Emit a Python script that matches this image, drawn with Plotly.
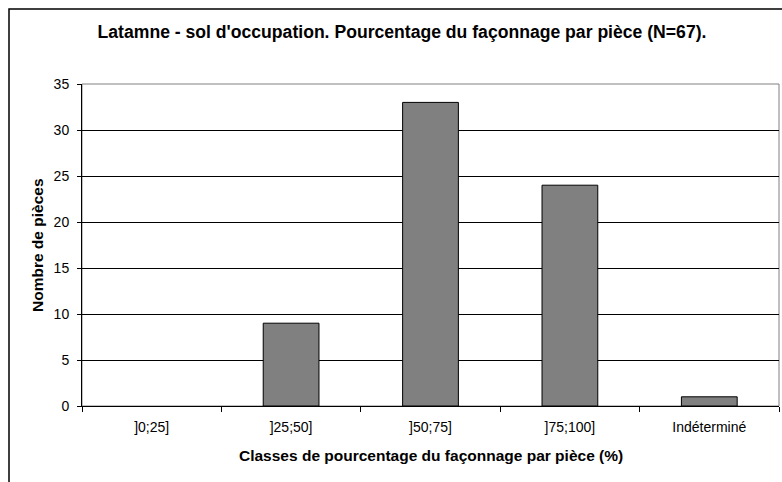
import plotly.graph_objects as go

# Category labels and piece counts
classes = ["]0;25]", "]25;50]", "]50;75]", "]75;100]", "Indéterminé"]
counts = [0, 9, 33, 24, 1]
y_ticks = [0, 5, 10, 15, 20, 25, 30, 35]

FONT = "Arial, 'Liberation Sans', sans-serif"

fig = go.Figure()
fig.add_trace(go.Bar(
    x=classes,
    y=counts,
    marker=dict(
        color="#808080",
        # no outline on empty classes, so nothing is drawn for a zero count
        line=dict(color="black", width=[1 if v > 0 else 0 for v in counts]),
    ),
    width=0.4,
    hoverinfo="x+y",
))

L, R, T, B = 82, 3, 84, 76
W, H = 782, 482
pw, ph = W - L - R, H - T - B

fig.update_layout(
    width=W, height=H,
    margin=dict(l=L, r=R, t=T, b=B),
    paper_bgcolor="white",
    plot_bgcolor="white",
    showlegend=False,
    font=dict(family=FONT, color="black", size=14),
    xaxis=dict(
        type="category",
        showgrid=False,
        showline=True, linecolor="black", linewidth=1,
        ticks="outside", tickson="boundaries", ticklen=5, tickcolor="black",
        tickfont=dict(size=14),
        ticklabelstandoff=8,
        range=[-0.5, 4.5],
        fixedrange=True,
    ),
    yaxis=dict(
        range=[0, 35],
        tickvals=y_ticks,
        showgrid=True, gridcolor="black", gridwidth=1,
        showline=True, linecolor="black", linewidth=1,
        ticks="outside", ticklen=4, tickcolor="black",
        tickfont=dict(size=14),
        ticklabelstandoff=5,
        zeroline=False,
        fixedrange=True,
    ),
    title=dict(
        text="<b>Latamne - sol d'occupation. Pourcentage du façonnage par pièce (N=67).</b>",
        font=dict(size=17.6, family=FONT, color="black"),
        x=402 / W, xanchor="center", xref="container",
        y=1 - 32 / H, yanchor="middle", yref="container",
    ),
    annotations=[
        dict(
            text="<b>Nombre de pièces</b>",
            textangle=-90,
            x=(37 - L) / pw, xref="paper", xanchor="center",
            y=0.5, yref="paper", yanchor="middle",
            showarrow=False, font=dict(size=15.5, family=FONT, color="black"),
        ),
        dict(
            text="<b>Classes de pourcentage du façonnage par pièce (%)</b>",
            x=0.5, xref="paper", xanchor="center",
            y=-(455 - (H - B)) / ph, yref="paper", yanchor="middle",
            showarrow=False, font=dict(size=15.5, family=FONT, color="black"),
        ),
    ],
    shapes=[
        # plot-area frame (top and right sides in grey)
        dict(type="rect", xref="paper", yref="paper", x0=0, x1=1, y0=0, y1=1,
             line=dict(color="#808080", width=1), layer="below"),
        # outer chart frame
        dict(type="rect", xref="paper", yref="paper",
             x0=(9 - L) / pw, x1=(W + 20 - L) / pw,
             y0=-(H + 20 - (H - B)) / ph, y1=((H - B) - 9) / ph,
             line=dict(color="black", width=1.5)),
    ],
)

fig.write_html("out.html")
